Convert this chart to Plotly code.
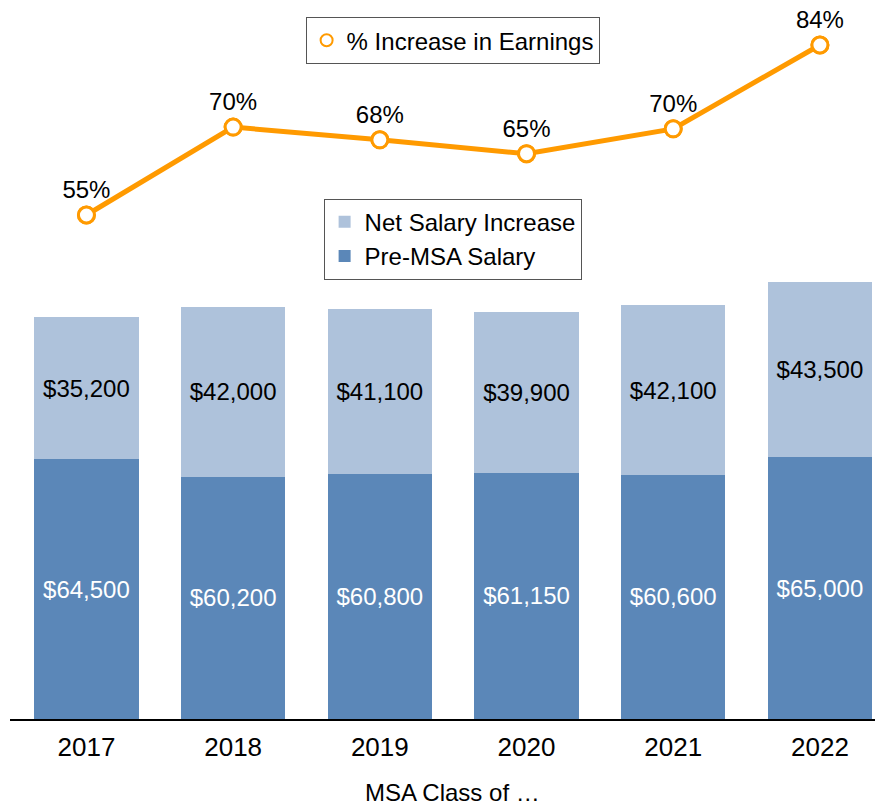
import plotly.graph_objects as go

years = ["2017", "2018", "2019", "2020", "2021", "2022"]
pre_msa = [64500, 60200, 60800, 61150, 60600, 65000]
net_increase = [35200, 42000, 41100, 39900, 42100, 43500]
pct_increase = [54.6, 69.8, 67.6, 65.2, 69.5, 84.0]
pct_labels = ["55%", "70%", "68%", "65%", "70%", "84%"]

pre_labels = ["$" + format(v, ",") for v in pre_msa]
net_labels = ["$" + format(v, ",") for v in net_increase]

orange = "#FF9A00"
dark_blue = "#5B87B8"
light_blue = "#AEC2DB"
font = "Liberation Sans, Arial, Helvetica, sans-serif"

fig = go.Figure()

fig.add_trace(go.Bar(
    x=years, y=pre_msa, name="Pre-MSA Salary",
    marker=dict(color=dark_blue, line=dict(width=0)),
    text=pre_labels, textposition="inside", insidetextanchor="middle",
    textfont=dict(color="white", size=24, family=font),
    width=0.71, legend="legend2",
))
fig.add_trace(go.Bar(
    x=years, y=net_increase, name="Net Salary Increase",
    marker=dict(color=light_blue, line=dict(width=0)),
    text=net_labels, textposition="inside", insidetextanchor="middle",
    textfont=dict(color="black", size=24, family=font),
    width=0.71, legend="legend2",
))

# the line itself, no legend entry
fig.add_trace(go.Scatter(
    x=years, y=pct_increase, mode="lines+markers+text",
    line=dict(color=orange, width=5),
    marker=dict(size=16, color="white", line=dict(color=orange, width=3)),
    text=pct_labels, textposition="top center",
    textfont=dict(size=24, color="black", family=font),
    yaxis="y2", showlegend=False, cliponaxis=False,
))
# markers-only copy for the legend symbol
fig.add_trace(go.Scatter(
    x=years, y=pct_increase, mode="markers", name="% Increase in Earnings",
    marker=dict(size=16, color="white", line=dict(color=orange, width=3)),
    yaxis="y2", legend="legend", cliponaxis=False, hoverinfo="skip",
))

legend_style = dict(
    font=dict(size=24, color="black", family=font),
    bordercolor="#555555", borderwidth=1, bgcolor="white",
    xanchor="center", yanchor="middle", itemsizing="constant",
)

fig.update_layout(
    width=883, height=807,
    margin=dict(l=2, r=8, t=0, b=96),
    paper_bgcolor="white", plot_bgcolor="white",
    barmode="stack",
    font=dict(family=font, color="black"),
    xaxis=dict(
        range=[-0.521, 5.43], showline=True, linecolor="black", linewidth=2,
        ticks="", tickfont=dict(size=26), showgrid=False, ticklabelstandoff=4,
    ),
    yaxis=dict(domain=[0, 0.6146], range=[0, 108500], visible=False),
    yaxis2=dict(domain=[0.63, 1], range=[44.9, 90.4], visible=False, anchor="x"),
    legend=dict(x=0.507, y=0.954, **legend_style),
    legend2=dict(x=0.507, y=0.675, traceorder="reversed", **legend_style),
    annotations=[dict(
        text="MSA Class of …", xref="paper", yref="paper", x=0.507, y=-0.1027,
        xanchor="center", yanchor="middle", showarrow=False,
        font=dict(size=24, color="black", family=font),
    )],
)

fig.write_html("out.html")
